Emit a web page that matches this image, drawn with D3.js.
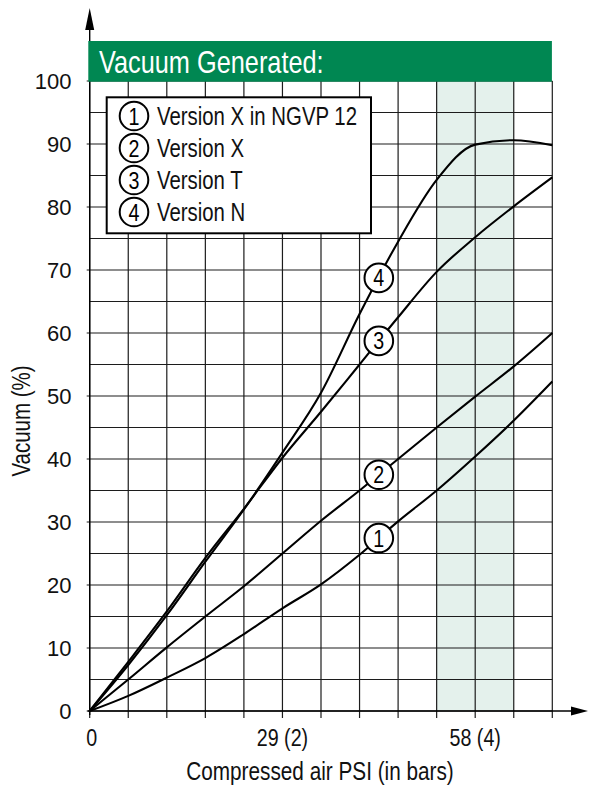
<!DOCTYPE html>
<html><head><meta charset="utf-8">
<script src="https://cdn.jsdelivr.net/npm/d3@7/dist/d3.min.js"></script>
<style>
body{margin:0;background:#fff}
svg{display:block}
text{font-family:"Liberation Sans",Arial,Helvetica,sans-serif}
</style>
</head><body><svg id="c" width="590" height="788"></svg>
<script>
// ---- data ----
const psi = [0, 5.8, 11.6, 17.4, 23.2, 29, 34.8, 40.6, 46.4, 52.2, 58, 63.8, 69.6];
const vacuum1 = [0, 2.4, 5.3, 8.4, 12.2, 16.3, 20.1, 24.8, 30.1, 35.0, 40.4, 46.1, 52.3];
const vacuum2 = [0, 5.0, 10.1, 15.0, 19.8, 25.0, 30.2, 35.0, 40.0, 45.0, 49.9, 54.7, 60.0];
const vacuum3 = [0, 7.8, 15.8, 24.3, 32.1, 40.2, 47.5, 55.0, 62.5, 69.7, 75.2, 80.1, 84.7];
const vacuum4 = [0, 7.3, 15.2, 23.7, 32.0, 41.0, 50.5, 63.0, 74.5, 84.3, 89.9, 90.6, 89.8];
const seriesIds = ["1", "2", "3", "4"];
const seriesNames = ["Version X in NGVP 12", "Version X", "Version T", "Version N"];
const gridPsi = [0, 5.8, 11.6, 17.4, 23.2, 29, 34.8, 40.6, 46.4, 52.2, 58, 63.8, 69.6];
const gridVacuum = [0,5,10,15,20,25,30,35,40,45,50,55,60,65,70,75,80,85,90,95,100];
const yTicks = [0,10,20,30,40,50,60,70,80,90,100];
const xTicks = [0, 29, 58];
const xTickLabels = ["0", "29 (2)", "58 (4)"];
const highlight = [52.2, 63.8];
const labelPsi = 43.5;
const chartTitle = "Vacuum Generated:";
const xTitle = "Compressed air PSI (in bars)";
const yTitle = "Vacuum (%)";

const series = [vacuum1, vacuum2, vacuum3, vacuum4];

// ---- scales ----
const x = d3.scaleLinear().domain([0, 69.6]).range([89.7, 552.3]);
const y = d3.scaleLinear().domain([0, 100]).range([711, 81]);
const svg = d3.select("#c");
const green = "#008752";

// narrow (condensed) text helper: Arial-metric font squeezed horizontally
function narrowText(parent, px, py, str, size, anchor, fill, rot, sx) {
  return parent.append("text")
    .attr("transform", `translate(${px},${py})` + (rot ? ` rotate(${rot})` : "") + ` scale(${sx || 0.82},1)`)
    .attr("font-size", size).attr("fill", fill || "#111")
    .attr("text-anchor", anchor || "start").text(str);
}

// highlight band
svg.append("rect")
  .attr("x", x(highlight[0])).attr("y", y(100))
  .attr("width", x(highlight[1]) - x(highlight[0]))
  .attr("height", y(0) - y(100))
  .attr("fill", "#e4f1ec");

// grid
const g = svg.append("g").attr("stroke", "#1c1c1c").attr("stroke-width", 1.2);
g.selectAll(".h").data(gridVacuum).join("line")
  .attr("x1", v => yTicks.includes(v) ? x(0) - 3 : x(0))
  .attr("x2", x(69.6))
  .attr("y1", v => y(v)).attr("y2", v => y(v));
g.selectAll(".v").data(gridPsi).join("line")
  .attr("x1", p => x(p)).attr("x2", p => x(p))
  .attr("y1", y(100)).attr("y2", y(0) + 7);

// axes lines with arrows
svg.append("line").attr("x1", x(0)).attr("x2", x(0))
  .attr("y1", y(0) + 4).attr("y2", 24).attr("stroke", "#000").attr("stroke-width", 1.4);
svg.append("path").attr("d", `M${x(0)},8 L${x(0)-4.5},30 L${x(0)+4.5},30 Z`).attr("fill", "#000");
svg.append("line").attr("x1", x(0) - 2).attr("x2", 578)
  .attr("y1", y(0)).attr("y2", y(0)).attr("stroke", "#000").attr("stroke-width", 1.4);
svg.append("path").attr("d", `M588,${y(0)} L571,${y(0)-4.5} L571,${y(0)+4.5} Z`).attr("fill", "#000");

// tick labels
svg.append("g").selectAll("text").data(yTicks).join("text")
  .attr("x", 71.5).attr("y", v => y(v)).attr("dy", "0.36em")
  .attr("text-anchor", "end").attr("font-size", 22).attr("fill", "#111")
  .text(v => v);
const xt = svg.append("g");
xTicks.forEach((p, i) => narrowText(xt, x(p) + (i === 0 ? 2 : 0), 746, xTickLabels[i], 24, "middle"));

// axis titles
narrowText(svg, 320, 780, xTitle, 25, "middle", "#111", 0, 0.83);
narrowText(svg, 30, 421, yTitle, 25, "middle", "#111", -90, 0.82);

// curves
const line = d3.line().x(d => x(d[0])).y(d => y(d[1])).curve(d3.curveMonotoneX);
svg.append("g").selectAll("path").data(series).join("path")
  .attr("d", s => line(psi.map((p, i) => [p, s[i]])))
  .attr("fill", "none").attr("stroke", "#000").attr("stroke-width", 2.1)
  .attr("stroke-linejoin", "round");

// curve labels
function valueAt(s, p) {
  const i = d3.bisectRight(psi, p) - 1;
  const t = (p - psi[i]) / (psi[i + 1] - psi[i]);
  return s[i] + t * (s[i + 1] - s[i]);
}
series.forEach((s, i) => {
  const cx = x(labelPsi), cy = y(valueAt(s, labelPsi));
  svg.append("circle").attr("cx", cx).attr("cy", cy).attr("r", 14.3)
    .attr("fill", "#fff").attr("stroke", "#000").attr("stroke-width", 2);
  narrowText(svg, cx, cy + 8.6, seriesIds[i], 24, "middle", "#000");
});

// legend
const leg = svg.append("g");
leg.append("rect").attr("x", 106.7).attr("y", 97.3).attr("width", 264.3).attr("height", 136)
  .attr("fill", "#fff").attr("stroke", "#000").attr("stroke-width", 2);
seriesNames.forEach((name, i) => {
  const cy = 116 + i * 32;
  leg.append("circle").attr("cx", 134).attr("cy", cy).attr("r", 14.3).attr("fill", "#fff")
    .attr("stroke", "#000").attr("stroke-width", 2);
  narrowText(leg, 134, cy + 8.6, seriesIds[i], 24, "middle", "#000");
  narrowText(leg, 157, cy + 8.8, name, 25, "start", "#111", 0, 0.815);
});

// title bar
svg.append("rect").attr("x", x(0) - 1.4).attr("y", 41)
  .attr("width", x(69.6) - x(0) + 1).attr("height", y(100) - 41 + 0.7).attr("fill", green);
narrowText(svg, 99, 72.5, chartTitle, 30.5, "start", "#fff", 0, 0.83);
</script>
</body></html>
